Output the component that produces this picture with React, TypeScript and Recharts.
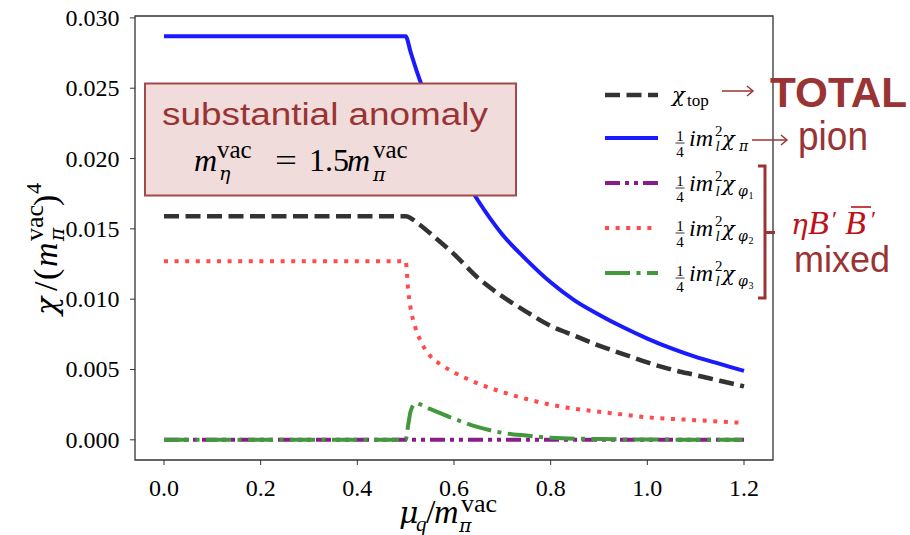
import React from "react";
import { LineChart, Line, XAxis, YAxis, ReferenceArea } from "recharts";

// axis ticks
const xTicks = [0, 0.2, 0.4, 0.6, 0.8, 1.0, 1.2];
const yTicks = [0, 0.005, 0.01, 0.015, 0.02, 0.025, 0.03];

// chi_top (total)
const muTop = [0, 0.5, 0.525, 0.55, 0.6, 0.65, 0.7, 0.75, 0.8, 0.85, 0.9, 0.95, 1.0, 1.05, 1.1, 1.15, 1.2];
const chiTop = [0.0159, 0.0159, 0.0154, 0.0147, 0.0132, 0.0115, 0.0102, 0.0091, 0.0081, 0.0074, 0.0067, 0.0061, 0.0055, 0.005, 0.0046, 0.0042, 0.0038];

// pion contribution
const muPion = [0, 0.5, 0.51, 0.525, 0.55, 0.575, 0.6, 0.65, 0.7, 0.75, 0.8, 0.85, 0.9, 0.95, 1.0, 1.05, 1.1, 1.15, 1.2];
const chiPion = [0.0287, 0.0287, 0.0276, 0.026, 0.0237, 0.0217, 0.0199, 0.017, 0.0146, 0.0128, 0.0112, 0.0099, 0.0089, 0.008, 0.0072, 0.0065, 0.0059, 0.0054, 0.0049];

// phi_1, phi_2, phi_3 (eta B' B'bar mixed)
const muPhi1 = [0, 0.5, 1.2];
const chiPhi1 = [0, 0, 0];

const muPhi2 = [0, 0.5, 0.505, 0.51, 0.52, 0.53, 0.55, 0.575, 0.6, 0.65, 0.7, 0.75, 0.8, 0.85, 0.9, 0.95, 1.0, 1.1, 1.2];
const chiPhi2 = [0.0127, 0.0127, 0.0107, 0.0094, 0.008, 0.0071, 0.006, 0.0053, 0.0048, 0.004, 0.0034, 0.0029, 0.0025, 0.0022, 0.002, 0.0018, 0.0016, 0.0014, 0.0012];

const muPhi3 = [0, 0.5, 0.505, 0.51, 0.52, 0.55, 0.6, 0.65, 0.7, 0.75, 0.8, 0.9, 1.0, 1.1, 1.2];
const chiPhi3 = [0, 0, 0.001, 0.002, 0.0026, 0.0022, 0.0015, 0.0009, 0.0005, 0.0003, 0.00015, 0.00005, 0.00002, 0.00001, 0];

const SERIF = "'Liberation Serif', 'Times New Roman', serif";
const GREEK = "'DejaVu Serif', serif";
const SANS = "'Liberation Sans', Arial, sans-serif";
const DARK_RED = "#9a3434";
const ETA_RED = "#c0101a";

const X_DOMAIN: [number, number] = [-0.06, 1.26];
const Y_DOMAIN: [number, number] = [-0.001435, 0.030135];

const zip = (mu: number[], chi: number[]) => mu.map((m, i) => ({ mu: m, chi: chi[i] }));

const series = [
  { key: "top", data: zip(muTop, chiTop), color: "#333333", width: 4.5, dash: "15 6.5", sub: "" },
  { key: "pion", data: zip(muPion, chiPion), color: "#1a1aff", width: 4, dash: undefined, sub: "π" },
  { key: "phi1", data: zip(muPhi1, chiPhi1), color: "#8a1c8a", width: 4, dash: "15 5 4 5 4 5", sub: "1" },
  { key: "phi2", data: zip(muPhi2, chiPhi2), color: "#ff4b4b", width: 4, dash: "4 6.6", sub: "2" },
  { key: "phi3", data: zip(muPhi3, chiPhi3), color: "#41983d", width: 4, dash: "25 6.5 4 6.5", sub: "3" },
];

const legendRows = [95, 138, 183, 228, 273];

type TProps = {
  x: number;
  y: number;
  size: number;
  italic?: boolean;
  w?: number;
  fill?: string;
  family?: string;
  weight?: string;
  anchor?: "start" | "middle" | "end";
  children: React.ReactNode;
};

function T({ x, y, size, italic, w, fill = "#000", family = SERIF, weight, anchor, children }: TProps) {
  return (
    <text
      x={x}
      y={y}
      fontSize={size}
      fontStyle={italic ? "italic" : "normal"}
      fontFamily={family}
      fontWeight={weight}
      fill={fill}
      textAnchor={anchor}
      textLength={w}
      lengthAdjust={w ? "spacingAndGlyphs" : undefined}
    >
      {children}
    </text>
  );
}

// one piece of a math expression, laid out inside a shared <text>
type Piece = { x: number; y: number; size: number; italic?: boolean; greek?: boolean; w?: number; s: string };

function MathText({ pieces, fill = "#000" }: { pieces: Piece[]; fill?: string }) {
  return (
    <text fill={fill} fontFamily={SERIF}>
      {pieces.map((p, i) => (
        <tspan
          key={i}
          x={p.x}
          y={p.y}
          fontSize={p.size}
          fontStyle={p.italic ? "italic" : "normal"}
          fontFamily={p.greek ? GREEK : SERIF}
          textLength={p.w}
          lengthAdjust={p.w ? "spacingAndGlyphs" : undefined}
        >
          {p.s}
        </tspan>
      ))}
    </text>
  );
}

const boxFormula: Piece[] = [
  { x: 194, y: 171, size: 32, italic: true, s: "m" },
  { x: 217, y: 158, size: 25, s: "vac" },
  { x: 219, y: 180, size: 19, italic: true, greek: true, s: "η" },
  { x: 275, y: 171, size: 32, w: 22, s: "=" },
  { x: 309, y: 171, size: 32, s: "1.5" },
  { x: 347, y: 171, size: 32, italic: true, s: "m" },
  { x: 373, y: 158, size: 25, s: "vac" },
  { x: 373, y: 181, size: 19, italic: true, greek: true, s: "π" },
];

const xTitle: Piece[] = [
  { x: 399, y: 523, size: 30, italic: true, greek: true, s: "μ" },
  { x: 416, y: 531, size: 21, italic: true, s: "q" },
  { x: 426, y: 523, size: 34, s: "/" },
  { x: 434, y: 523, size: 34, italic: true, s: "m" },
  { x: 459, y: 532, size: 19, italic: true, greek: true, s: "π" },
  { x: 461, y: 512, size: 26, s: "vac" },
];

const yTitle: Piece[] = [
  { x: 0, y: 0, size: 30, italic: true, greek: true, s: "χ" },
  { x: 24, y: 0, size: 34, s: "/" },
  { x: 35, y: 0, size: 34, s: "(" },
  { x: 48, y: 0, size: 34, italic: true, s: "m" },
  { x: 74, y: 7, size: 20, italic: true, greek: true, s: "π" },
  { x: 74, y: -14, size: 26, s: "vac" },
  { x: 109, y: 0, size: 34, s: ")" },
  { x: 121, y: -16, size: 22, s: "4" },
];

function XTick(p: any) {
  return (
    <text x={p.x} y={p.y + 28.5} textAnchor="middle" fontFamily={SERIF} fontSize={24} fill="#000">
      {Number(p.payload.value).toFixed(1)}
    </text>
  );
}

function YTick(p: any) {
  return (
    <text x={p.x - 8.5} y={p.y + 8} textAnchor="end" fontFamily={SERIF} fontSize={24} fill="#000">
      {Number(p.payload.value).toFixed(3)}
    </text>
  );
}

// "1/4 i m_l^2 chi_x" legend label
function QuarterLabel({ y, sub }: { y: number; sub: string }) {
  const pieces: Piece[] = [
    { x: 689, y: y + 8, size: 24, italic: true, s: "im" },
    { x: 715, y: y - 2, size: 15, s: "2" },
    { x: 715.5, y: y + 13, size: 15, italic: true, s: "l" },
    { x: 722, y: y + 8, size: 21, italic: true, greek: true, s: "χ" },
  ];
  if (sub === "π") {
    pieces.push({ x: 739, y: y + 13, size: 14, italic: true, greek: true, s: "π" });
  } else {
    pieces.push({ x: 738, y: y + 13, size: 14, italic: true, greek: true, s: "φ" });
    pieces.push({ x: 748.5, y: y + 16, size: 10, s: sub });
  }
  return (
    <g>
      <T x={680} y={y + 2.5} size={15} anchor="middle">1</T>
      <line x1={675.5} x2={684.5} y1={y + 5} y2={y + 5} stroke="#000" strokeWidth={0.8} />
      <T x={680} y={y + 19} size={15} anchor="middle">4</T>
      <MathText pieces={pieces} />
    </g>
  );
}

function Arrow({ x1, x2, y }: { x1: number; x2: number; y: number }) {
  return (
    <g stroke={DARK_RED} strokeWidth={1.5} fill="none">
      <line x1={x1} x2={x2} y1={y} y2={y} />
      <polyline points={`${x2 - 6},${y - 5} ${x2},${y} ${x2 - 6},${y + 5}`} />
    </g>
  );
}

function Overlay() {
  return (
    <svg width={910} height={535} style={{ position: "absolute", left: 0, top: 0, pointerEvents: "none" }}>
      {/* annotation box */}
      <rect x={145} y={83.5} width={371} height={112} fill="#f1dcdc" stroke="#a24a4a" strokeWidth={2} />
      <T x={162} y={125} size={31} family={SANS} fill={DARK_RED} w={326}>substantial anomaly</T>
      <MathText pieces={boxFormula} />

      {/* legend */}
      {series.map((s, i) => (
        <line
          key={s.key}
          x1={605}
          x2={658}
          y1={legendRows[i]}
          y2={legendRows[i]}
          stroke={s.color}
          strokeWidth={s.width}
          strokeDasharray={s.dash}
        />
      ))}
      <MathText
        pieces={[
          { x: 672, y: legendRows[0] + 7, size: 21, italic: true, greek: true, s: "χ" },
          { x: 687, y: legendRows[0] + 11, size: 17, s: "top" },
        ]}
      />
      {series.slice(1).map((s, i) => (
        <QuarterLabel key={s.key} y={legendRows[i + 1]} sub={s.sub} />
      ))}

      {/* side notes */}
      <Arrow x1={722} x2={753} y={91} />
      <Arrow x1={752} x2={787} y={140} />
      <T x={770} y={106.5} size={43} family={SANS} weight="bold" fill={DARK_RED} w={137}>TOTAL</T>
      <T x={798} y={150} size={40} family={SANS} fill={DARK_RED} w={70}>pion</T>
      <path d="M758,166 H765 V298 H758 M765,232.5 H775" stroke={DARK_RED} strokeWidth={3} fill="none" />
      <MathText
        fill={ETA_RED}
        pieces={[
          { x: 791, y: 234, size: 28, italic: true, greek: true, s: "η" },
          { x: 808, y: 234, size: 34, italic: true, s: "B" },
          { x: 832, y: 227, size: 24, s: "′" },
          { x: 845, y: 234, size: 34, italic: true, s: "B" },
          { x: 871, y: 227, size: 24, s: "′" },
        ]}
      />
      <line x1={851} x2={871} y1={207} y2={207} stroke={ETA_RED} strokeWidth={1.6} />
      <T x={794} y={271.5} size={37} family={SANS} fill={DARK_RED} w={96}>mixed</T>

      {/* axis titles */}
      <MathText pieces={xTitle} />
      <g transform="translate(57,315) rotate(-90)">
        <MathText pieces={yTitle} />
      </g>
    </svg>
  );
}

export default function App() {
  return (
    <div style={{ position: "absolute", left: 0, top: 0, width: 910, height: 535, background: "#fff" }}>
      <LineChart width={910} height={535} margin={{ top: 16, right: 137, bottom: 35, left: 75 }}>
        <XAxis
          type="number"
          dataKey="mu"
          domain={X_DOMAIN}
          ticks={xTicks}
          allowDataOverflow
          axisLine={false}
          tickLine={{ stroke: "#333", strokeWidth: 1 }}
          tickSize={5}
          height={40}
          tick={XTick}
        />
        <YAxis
          type="number"
          domain={Y_DOMAIN}
          ticks={yTicks}
          allowDataOverflow
          axisLine={false}
          tickLine={{ stroke: "#333", strokeWidth: 1 }}
          tickSize={5}
          width={60}
          tick={YTick}
        />
        <ReferenceArea
          x1={X_DOMAIN[0]}
          x2={X_DOMAIN[1]}
          y1={Y_DOMAIN[0]}
          y2={Y_DOMAIN[1]}
          fill="none"
          stroke="#333"
          strokeWidth={1.3}
        />
        {series.map((s) => (
          <Line
            key={s.key}
            data={s.data}
            dataKey="chi"
            type="monotone"
            stroke={s.color}
            strokeWidth={s.width}
            strokeDasharray={s.dash}
            dot={false}
            activeDot={false}
            isAnimationActive={false}
          />
        ))}
      </LineChart>
      <Overlay />
    </div>
  );
}
